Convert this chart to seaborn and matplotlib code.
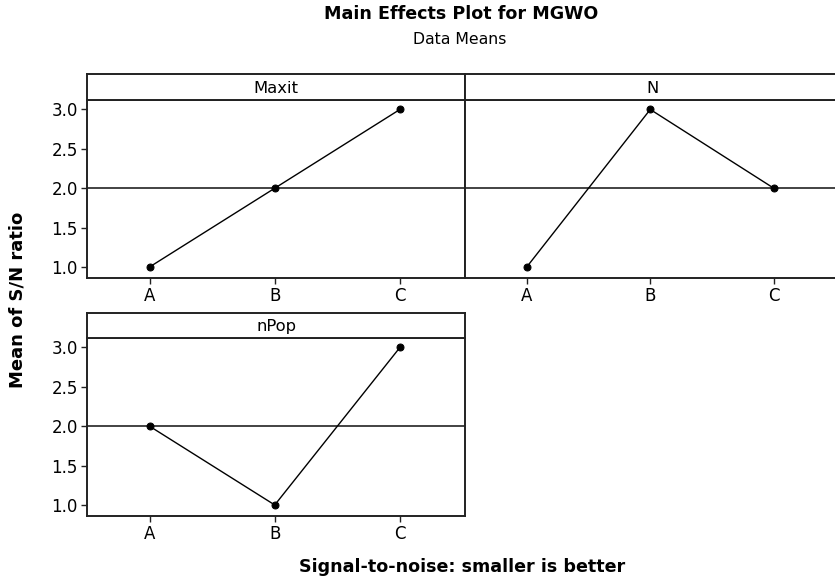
import pandas as pd
import seaborn as sns
import matplotlib.pyplot as plt

# Data: mean S/N ratio per factor level
factors = ["Maxit", "N", "nPop"]
levels = ["A", "B", "C"]
maxit_means = [1.0, 2.0, 3.0]
n_means = [1.0, 3.0, 2.0]
npop_means = [2.0, 1.0, 3.0]
overall_mean = 2.0
yticks = [1.0, 1.5, 2.0, 2.5, 3.0]

df = pd.DataFrame({
    "Factor": [f for f in factors for _ in levels],
    "Level": levels * 3,
    "Mean": maxit_means + n_means + npop_means,
})

sns.set_style("ticks")
plt.rcParams["font.family"] = ["DejaVu Sans"]
plt.rcParams["text.color"] = "black"
plt.rcParams["xtick.color"] = "black"
plt.rcParams["ytick.color"] = "black"

fig = plt.figure(figsize=(8.35, 5.85), dpi=100)
W, H = 835, 585


def box(left, top, right, bottom):
    return [left / W, 1 - bottom / H, (right - left) / W, (bottom - top) / H]


edge = "#222222"

# panel layout in pixels: (left, right, header top, plot top, plot bottom, label x)
layout = {
    "Maxit": (87, 465, 74, 100, 278, 276),
    "N": (465, 838, 74, 100, 278, 653),
    "nPop": (87, 465, 313, 338, 516, 276),
}

for name, (l, r, ht, pt, pb, lx) in layout.items():
    ax = fig.add_axes(box(l, pt, r, pb))
    sub = df[df["Factor"] == name]
    ax.axhline(overall_mean, color=edge, lw=1.2, zorder=1)
    sns.pointplot(data=sub, x="Level", y="Mean", color="black", errorbar=None,
                  markersize=5, linewidth=1, ax=ax)
    ax.set_xlim(-0.5, 2.52)
    ax.set_ylim(0.86, 3.12)
    ax.set_yticks(yticks)
    ax.set_yticklabels([f"{v:.1f}" for v in yticks])
    ax.set_xlabel("")
    ax.set_ylabel("")
    ax.tick_params(direction="out", length=4, width=1, labelsize=12,
                   color=edge, pad=2.5)
    if name == "N":
        ax.tick_params(axis="y", left=False, labelleft=False)
    for s in ax.spines.values():
        s.set_visible(True)
        s.set_color(edge)
        s.set_linewidth(1.4)

    # strip header box with the factor name
    hax = fig.add_axes(box(l, ht, r, pt))
    hax.set_xticks([])
    hax.set_yticks([])
    for s in hax.spines.values():
        s.set_color(edge)
        s.set_linewidth(1.4)
    hax.text((lx - l) / (r - l), 0.45, name, ha="center", va="center",
             fontsize=11.8, transform=hax.transAxes)

fig.text(461 / W, 1 - 14 / H, "Main Effects Plot for MGWO", ha="center",
         va="center", fontsize=12.6, fontweight="bold")
fig.text(460 / W, 1 - 39 / H, "Data Means", ha="center", va="center",
         fontsize=11.3)
fig.text(18 / W, 1 - 300 / H, "Mean of S/N ratio", ha="center", va="center",
         rotation=90, fontsize=13, fontweight="bold")
fig.text(462 / W, 1 - 567 / H, "Signal-to-noise: smaller is better",
         ha="center", va="center", fontsize=12.6, fontweight="bold")

plt.savefig("out.png", dpi=100)
